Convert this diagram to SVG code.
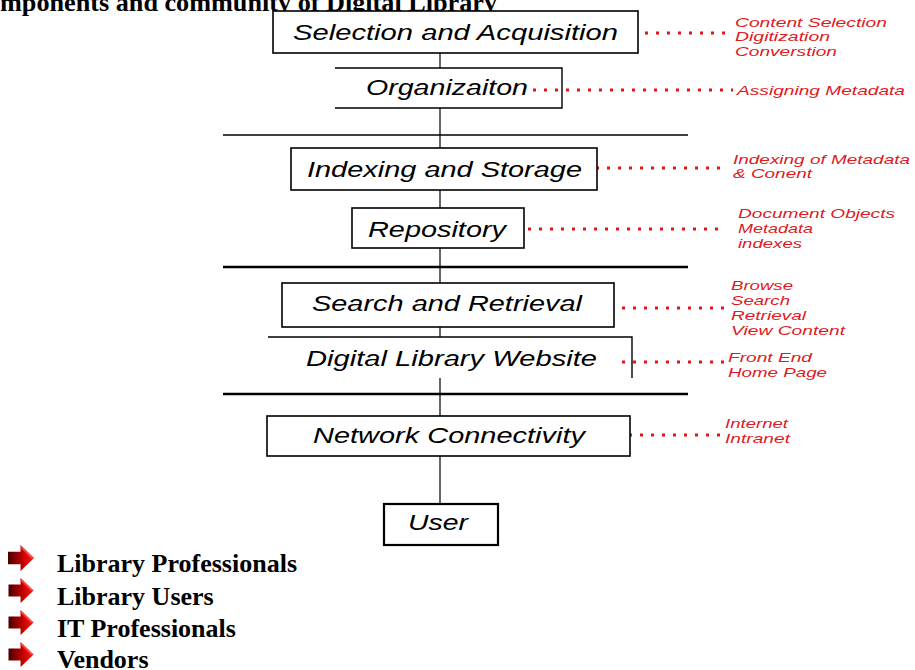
<svg xmlns="http://www.w3.org/2000/svg" width="915" height="670" viewBox="0 0 915 670">
  <defs>
    <style>
      .box { fill: #fff; stroke: #000; stroke-width: 1.6; }
      .open { fill: none; stroke: #000; stroke-width: 1.4; }
      .link { fill: none; stroke: #000; stroke-width: 1.2; }
      .sep { stroke: #000; stroke-width: 1.4; }
      .sep2 { stroke: #000; stroke-width: 2.6; }
      .dots { fill: none; stroke: #e3141c; stroke-width: 3; stroke-dasharray: 3 8; }
      .lbl { font-family: "Liberation Sans", Arial, sans-serif; font-style: italic; font-size: 22px; fill: #000; }
      .note { font-family: "Liberation Sans", Arial, sans-serif; font-style: italic; font-size: 13px; fill: #de1a22; }
      .head { font-family: "Liberation Serif", "Times New Roman", serif; font-weight: bold; font-size: 26px; fill: #000; }
    </style>
    <linearGradient id="arrowFill" x1="0" y1="0" x2="1" y2="0">
      <stop offset="0" stop-color="#4a0000"/>
      <stop offset="0.55" stop-color="#c00000"/>
      <stop offset="1" stop-color="#ff1a1a"/>
    </linearGradient>
    <symbol id="bullet" viewBox="0 0 28 28" overflow="visible">
      <path d="M0 7 H13 V0 L27 13.5 L13 27 V20 H0 Z" fill="url(#arrowFill)"/>
      <path d="M13 0 L27 13.5 L24 13.5 L13 3 Z" fill="#ff6060" opacity="0.7"/>
    </symbol>
  </defs>

  <!-- heading -->
  <text class="head" x="0" y="11" textLength="497" lengthAdjust="spacingAndGlyphs">mponents and community of Digital Library</text>

  <!-- layer separators -->
  <g id="separators">
    <line class="sep" x1="223" y1="135" x2="688" y2="135"/>
    <line class="sep2" x1="223" y1="267" x2="688" y2="267"/>
    <line class="sep2" x1="223" y1="394" x2="688" y2="394"/>
  </g>

  <!-- connectors -->
  <g id="connectors">
    <line class="link" x1="440" y1="53" x2="440" y2="68"/>
    <line class="link" x1="440" y1="108" x2="440" y2="148"/>
    <line class="link" x1="440" y1="190" x2="440" y2="208"/>
    <line class="link" x1="440" y1="248" x2="440" y2="283"/>
    <line class="link" x1="440" y1="327" x2="440" y2="337"/>
    <line class="link" x1="440" y1="378" x2="440" y2="416"/>
    <line class="link" x1="440" y1="456" x2="440" y2="504"/>
    <!-- dotted leaders to annotations -->
    <line class="dots" x1="623" y1="33" x2="733" y2="33"/>
    <line class="dots" x1="533" y1="90" x2="733" y2="90"/>
    <line class="dots" x1="585" y1="168" x2="723" y2="168"/>
    <line class="dots" x1="517" y1="229" x2="725" y2="229"/>
    <line class="dots" x1="600" y1="308" x2="725" y2="308"/>
    <line class="dots" x1="622" y1="362" x2="725" y2="362"/>
    <line class="dots" x1="607" y1="435" x2="720" y2="435"/>
  </g>

  <g id="selection">
    <rect class="box" x="273" y="11" width="365" height="42"/>
    <text class="lbl" x="293" y="40" textLength="325" lengthAdjust="spacingAndGlyphs">Selection and Acquisition</text>
    <text class="note" x="735" y="27" textLength="152" lengthAdjust="spacingAndGlyphs">Content Selection</text>
    <text class="note" x="735" y="41" textLength="95" lengthAdjust="spacingAndGlyphs">Digitization</text>
    <text class="note" x="735" y="56" textLength="102" lengthAdjust="spacingAndGlyphs">Converstion</text>
  </g>

  <g id="organization">
    <path class="open" d="M335 68 H562 V108 H335"/>
    <text class="lbl" x="366" y="95" textLength="162" lengthAdjust="spacingAndGlyphs">Organizaiton</text>
    <text class="note" x="737" y="95" textLength="168" lengthAdjust="spacingAndGlyphs">Assigning Metadata</text>
  </g>

  <g id="indexing">
    <rect class="box" x="291" y="148" width="306" height="42"/>
    <text class="lbl" x="307" y="177" textLength="275" lengthAdjust="spacingAndGlyphs">Indexing and Storage</text>
    <text class="note" x="733" y="164" textLength="177" lengthAdjust="spacingAndGlyphs">Indexing of Metadata</text>
    <text class="note" x="733" y="178" textLength="79" lengthAdjust="spacingAndGlyphs">&amp; Conent</text>
  </g>

  <g id="repository">
    <rect class="box" x="352" y="208" width="172" height="40"/>
    <text class="lbl" x="368" y="237" textLength="138" lengthAdjust="spacingAndGlyphs">Repository</text>
    <text class="note" x="738" y="218" textLength="157" lengthAdjust="spacingAndGlyphs">Document Objects</text>
    <text class="note" x="738" y="233" textLength="75" lengthAdjust="spacingAndGlyphs">Metadata</text>
    <text class="note" x="738" y="248" textLength="64" lengthAdjust="spacingAndGlyphs">indexes</text>
  </g>

  <g id="search">
    <rect class="box" x="282" y="283" width="332" height="44"/>
    <text class="lbl" x="312" y="311" textLength="270" lengthAdjust="spacingAndGlyphs">Search and Retrieval</text>
    <text class="note" x="731" y="290" textLength="62" lengthAdjust="spacingAndGlyphs">Browse</text>
    <text class="note" x="731" y="305" textLength="59" lengthAdjust="spacingAndGlyphs">Search</text>
    <text class="note" x="731" y="320" textLength="75" lengthAdjust="spacingAndGlyphs">Retrieval</text>
    <text class="note" x="731" y="335" textLength="114" lengthAdjust="spacingAndGlyphs">View Content</text>
  </g>

  <g id="website">
    <path class="open" d="M268 337 H632 V378"/>
    <text class="lbl" x="306" y="366" textLength="291" lengthAdjust="spacingAndGlyphs">Digital Library Website</text>
    <text class="note" x="728" y="362" textLength="84" lengthAdjust="spacingAndGlyphs">Front End</text>
    <text class="note" x="728" y="377" textLength="99" lengthAdjust="spacingAndGlyphs">Home Page</text>
  </g>

  <g id="network">
    <rect class="box" x="267" y="416" width="363" height="40"/>
    <text class="lbl" x="313" y="443" textLength="272" lengthAdjust="spacingAndGlyphs">Network Connectivity</text>
    <text class="note" x="725" y="428" textLength="63" lengthAdjust="spacingAndGlyphs">Internet</text>
    <text class="note" x="725" y="443" textLength="65" lengthAdjust="spacingAndGlyphs">Intranet</text>
  </g>

  <g id="user">
    <rect class="box" x="384" y="504" width="114" height="41" style="stroke-width:2.2"/>
    <text class="lbl" x="408" y="530" textLength="60" lengthAdjust="spacingAndGlyphs">User</text>
  </g>

  <!-- community list -->
  <g id="community">
    <use href="#bullet" x="8" y="545" width="27" height="27"/>
    <use href="#bullet" x="8" y="578" width="27" height="26"/>
    <use href="#bullet" x="8" y="610" width="27" height="26"/>
    <use href="#bullet" x="8" y="642" width="27" height="26"/>
    <text class="head" x="57" y="572">Library Professionals</text>
    <text class="head" x="57" y="605">Library Users</text>
    <text class="head" x="57" y="637">IT Professionals</text>
    <text class="head" x="57" y="668">Vendors</text>
  </g>
</svg>
